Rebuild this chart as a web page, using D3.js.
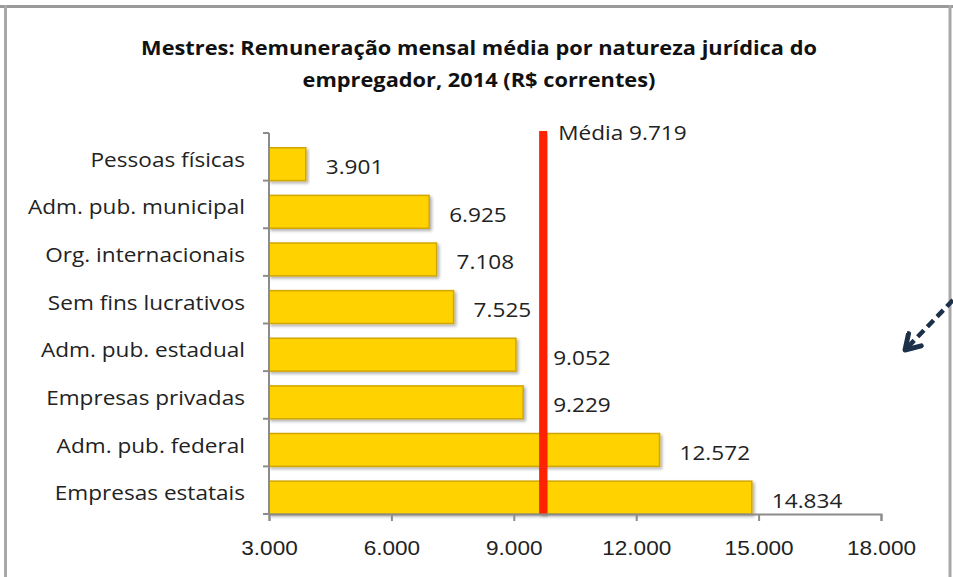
<!DOCTYPE html>
<html>
<head>
<meta charset="utf-8">
<script src="https://cdn.jsdelivr.net/npm/d3@7"></script>
<style>
  body { margin: 0; background: #fff; }
  svg { display: block; font-family: "Open Sans", "Noto Sans", sans-serif; }
  .axis path, .axis line { stroke: #8c8c8c; stroke-width: 2; }
  .axis text { font-size: 20px; fill: #222; }
</style>
</head>
<body>
<div id="chart-area"></div>
<script>
// data
var categories = ["Pessoas físicas", "Adm. pub. municipal", "Org. internacionais",
    "Sem fins lucrativos", "Adm. pub. estadual", "Empresas privadas",
    "Adm. pub. federal", "Empresas estatais"];
var values = [3901, 6925, 7108, 7525, 9052, 9229, 12572, 14834];
var mean = 9719;
var xTicks = [3000, 6000, 9000, 12000, 15000, 18000];
var titleLines = ["Mestres: Remuneração mensal média por natureza jurídica do",
    "empregador, 2014 (R$ correntes)"];

var W = 953, H = 577;
var margin = { left: 269, right: 72, top: 133, bottom: 63 };
var width = W - margin.left - margin.right,
    height = H - margin.top - margin.bottom;

var fmt = function(v) { return d3.format(",")(v).replace(/,/g, "."); };

// the source picture is a bit wider than tall, so text gets stretched sideways
function stretch(sel, sx) {
    sel.each(function() {
        var t = d3.select(this);
        var px = +t.attr("x") || 0, py = +t.attr("y") || 0;
        t.attr("x", 0).attr("y", 0)
         .attr("transform", "translate(" + px + "," + py + ") scale(" + sx + ",1)");
    });
}

var svg = d3.select("#chart-area")
    .append("svg")
        .attr("width", W)
        .attr("height", H);

// frame of the slide
svg.append("line").attr("x1", 0).attr("x2", W).attr("y1", 6.5).attr("y2", 6.5)
    .attr("stroke", "#9a9a9a").attr("stroke-width", 3);
svg.append("line").attr("x1", 5.5).attr("x2", 5.5).attr("y1", 5).attr("y2", H)
    .attr("stroke", "#a8a8a8").attr("stroke-width", 3);
svg.append("line").attr("x1", 950).attr("x2", 950).attr("y1", 5).attr("y2", H)
    .attr("stroke", "#a8a8a8").attr("stroke-width", 3);

// title
svg.append("g").selectAll("text").data(titleLines).enter()
    .append("text")
    .attr("x", 479)
    .attr("y", function(d, i) { return 55 + i * 32; })
    .attr("text-anchor", "middle")
    .attr("font-size", "20px")
    .attr("font-weight", "bold")
    .attr("fill", "#111")
    .text(function(d) { return d; })
    .call(stretch, 1.09);

var defs = svg.append("defs");
var f = defs.append("filter").attr("id", "shadow")
    .attr("x", "-5%").attr("y", "-20%").attr("width", "115%").attr("height", "160%");
f.append("feDropShadow").attr("dx", 2).attr("dy", 2).attr("stdDeviation", 1.5)
    .attr("flood-color", "#000").attr("flood-opacity", 0.3);

var g = svg.append("g")
    .attr("transform", "translate(" + margin.left + "," + margin.top + ")");

var x = d3.scaleLinear().domain([3000, 18000]).range([0, width]);
var y = d3.scaleBand().domain(categories).range([0, height]);

// bars sit in the lower part of each band
var barOff = y.bandwidth() * 0.31, barH = y.bandwidth() * 0.69;

g.selectAll("rect.bar").data(values).enter()
    .append("rect")
    .attr("class", "bar")
    .attr("x", 0)
    .attr("y", function(d, i) { return y(categories[i]) + barOff; })
    .attr("width", function(d) { return x(d); })
    .attr("height", barH)
    .attr("fill", "#ffd200")
    .attr("stroke", "#d2a600")
    .attr("stroke-width", 1.5)
    .attr("filter", "url(#shadow)");

// mean line
var mx = x(mean);
g.append("rect")
    .attr("x", mx - 4).attr("y", -2)
    .attr("width", 8).attr("height", height + 2)
    .attr("fill", "#ff2200")
    .attr("filter", "url(#shadow)");
g.append("text")
    .attr("x", mx + 15).attr("y", 0)
    .attr("dy", "0.35em")
    .attr("font-size", "20px")
    .attr("fill", "#222")
    .text("Média " + fmt(mean))
    .call(stretch, 1.13);

// value labels
g.selectAll("text.val").data(values).enter()
    .append("text")
    .attr("class", "val")
    .attr("x", function(d) {
        var p = x(d) + 20;
        return (p < mx + 12 && p > mx - 60) ? mx + 10 : p;
    })
    .attr("y", function(d, i) { return y(categories[i]) + barOff + barH / 2 + 3; })
    .attr("dy", "0.35em")
    .attr("font-size", "20px")
    .attr("fill", "#222")
    .text(fmt)
    .call(stretch, 1.13);

// axes
var yAxis = g.append("g").attr("class", "axis");
yAxis.append("line").attr("x1", 0).attr("x2", 0).attr("y1", 0).attr("y2", height);
yAxis.selectAll("line.tk").data(d3.range(categories.length + 1)).enter()
    .append("line").attr("class", "tk")
    .attr("x1", -6).attr("x2", 0)
    .attr("y1", function(i) { return i * y.step(); })
    .attr("y2", function(i) { return i * y.step(); });
yAxis.selectAll("text").data(categories).enter()
    .append("text")
    .attr("x", -24)
    .attr("y", function(d) { return y(d) + y.bandwidth() / 2 + 3; })
    .attr("dy", "0.35em")
    .attr("text-anchor", "end")
    .text(function(d) { return d; })
    .call(stretch, 1.13);

g.append("g")
    .attr("class", "axis")
    .attr("transform", "translate(0," + height + ")")
    .call(d3.axisBottom(x).tickValues(xTicks).tickSize(7).tickPadding(20).tickFormat(fmt))
    .call(function(s) {
        s.selectAll("text").attr("font-size", "20px").attr("font-family", null)
            .call(stretch, 1.13);
    });

// dashed arrow at right edge
defs.append("marker").attr("id", "head")
    .attr("viewBox", "0 0 20 20").attr("refX", 16).attr("refY", 10)
    .attr("markerUnits", "userSpaceOnUse")
    .attr("markerWidth", 22).attr("markerHeight", 22).attr("orient", "auto")
    .append("path").attr("d", "M3,2 L16,10 L3,18")
    .attr("fill", "none").attr("stroke", "#1c3049").attr("stroke-width", 4.5)
    .attr("stroke-linecap", "round").attr("stroke-linejoin", "round");
svg.append("line")
    .attr("x1", 953).attr("y1", 300).attr("x2", 905).attr("y2", 350)
    .attr("stroke", "#1c3049").attr("stroke-width", 4.5)
    .attr("stroke-dasharray", "9,5")
    .attr("marker-end", "url(#head)");
</script>
</body>
</html>
